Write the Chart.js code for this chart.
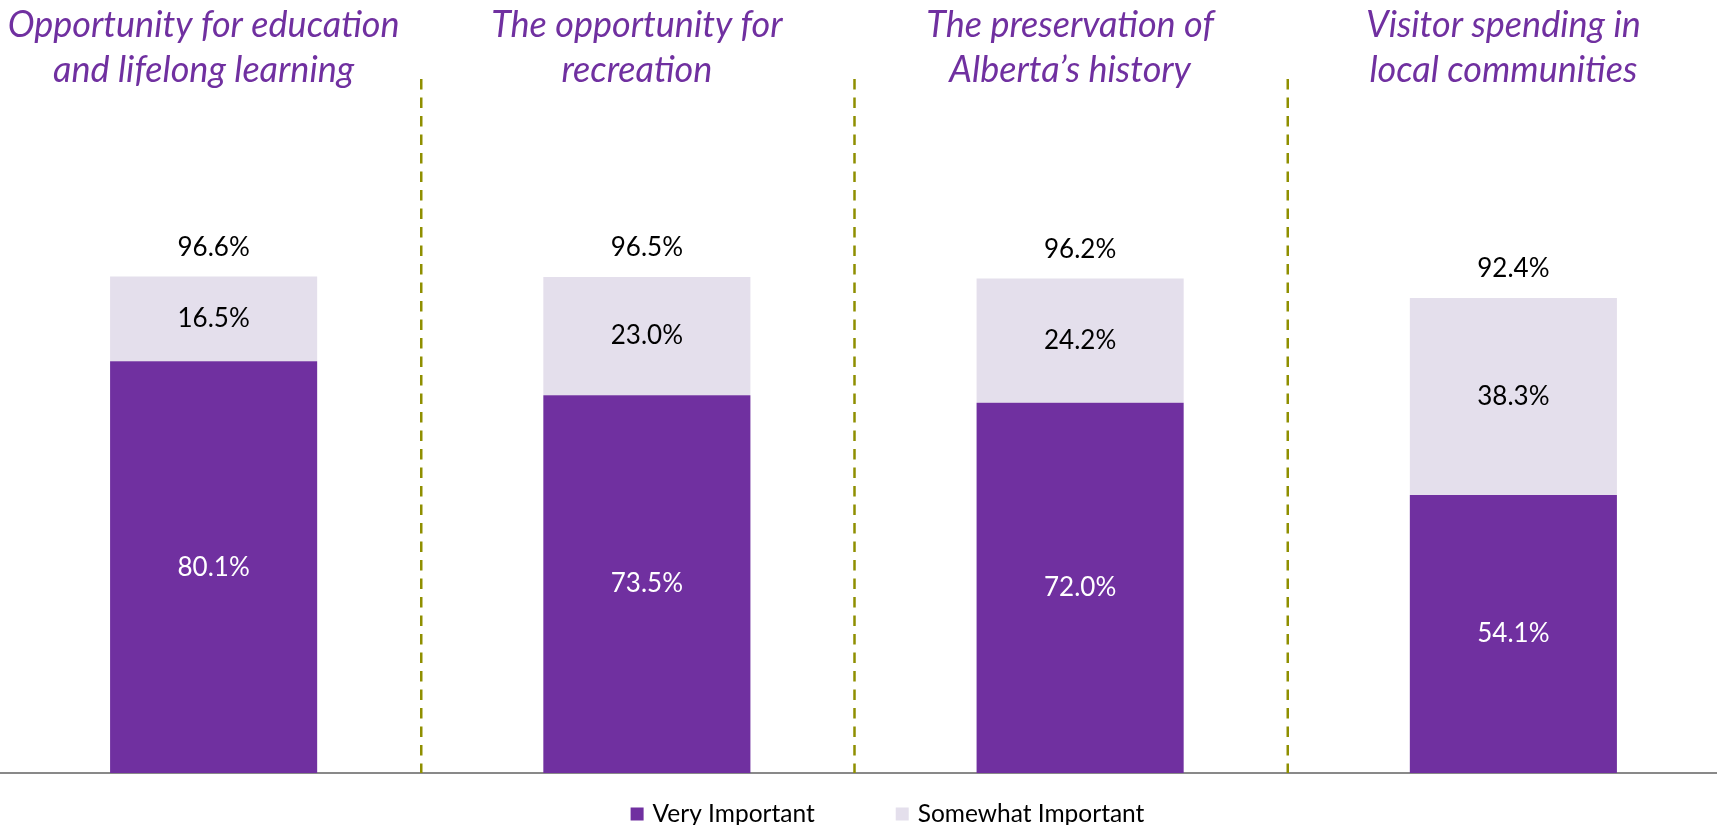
<!DOCTYPE html>
<html>
<head>
<meta charset="utf-8">
<script src="https://cdn.jsdelivr.net/npm/chart.js@4"></script>
<style>
  html, body { margin: 0; padding: 0; background: #ffffff; overflow: hidden; }
  #wrap { position: relative; left: -3px; width: 1733px; height: 825px; }
</style>
</head>
<body>
<div id="wrap"><canvas id="importance-chart"></canvas></div>
<script>
const categories = [
  ['Opportunity for education', 'and lifelong learning'],
  ['The opportunity for', 'recreation'],
  ['The preservation of', 'Alberta\u2019s history'],
  ['Visitor spending in', 'local communities']
];
const seriesNames = ['Very Important', 'Somewhat Important'];
const veryImportant = [80.1, 73.5, 72.0, 54.1];
const somewhatImportant = [16.5, 23.0, 24.2, 38.3];

const PURPLE = '#7030A0';
const LILAC = '#E4DFEC';

// dashed olive separators between the category columns
const separators = {
  id: 'separators',
  beforeDatasetsDraw(chart) {
    const ctx = chart.ctx;
    const xScale = chart.scales.x;
    const area = chart.chartArea;
    ctx.save();
    ctx.strokeStyle = '#8F8F00';
    ctx.lineWidth = 2.5;
    ctx.setLineDash([10.5, 8]);
    for (let i = 0; i < chart.data.labels.length - 1; i++) {
      const x = (xScale.getPixelForValue(i) + xScale.getPixelForValue(i + 1)) / 2 - 9;
      ctx.beginPath();
      ctx.moveTo(x, area.top);
      ctx.lineTo(x, area.bottom);
      ctx.stroke();
    }
    ctx.restore();
  }
};

// category headings across the top, two lines each
const categoryTitles = {
  id: 'categoryTitles',
  afterDraw(chart) {
    const ctx = chart.ctx;
    const xScale = chart.scales.x;
    ctx.save();
    ctx.font = 'italic 36px Lato';
    ctx.fillStyle = PURPLE;
    ctx.textAlign = 'center';
    ctx.textBaseline = 'alphabetic';
    chart.data.labels.forEach((lines, i) => {
      const x = xScale.getPixelForValue(i) - 10;
      lines.forEach((line, k) => ctx.fillText(line, x, 37 + k * 45));
    });
    ctx.restore();
  }
};

// value labels inside each segment plus the stack total above it
const barLabels = {
  id: 'barLabels',
  afterDatasetsDraw(chart) {
    const ctx = chart.ctx;
    ctx.save();
    ctx.font = '26px Lato';
    ctx.textAlign = 'center';
    ctx.textBaseline = 'middle';
    chart.data.datasets.forEach((ds, i) => {
      chart.getDatasetMeta(i).data.forEach((bar, j) => {
        ctx.fillStyle = i === 0 ? '#ffffff' : '#000000';
        ctx.fillText(ds.data[j].toFixed(1) + '%', bar.x, (bar.y + bar.base) / 2);
      });
    });
    ctx.fillStyle = '#000000';
    chart.getDatasetMeta(1).data.forEach((bar, j) => {
      const total = veryImportant[j] + somewhatImportant[j];
      ctx.fillText(total.toFixed(1) + '%', bar.x, bar.y - 29);
    });
    ctx.restore();
  }
};

// legend row under the axis, with wide spacing between the two entries
const bottomLegend = {
  id: 'bottomLegend',
  afterDraw(chart) {
    const ctx = chart.ctx;
    const box = 13, textGap = 9, itemGap = 81;
    const y = 814;
    ctx.save();
    ctx.font = '24.5px Lato';
    ctx.textBaseline = 'middle';
    const items = chart.data.datasets.map(ds => ({
      text: ds.label, color: ds.backgroundColor, w: box + textGap + ctx.measureText(ds.label).width
    }));
    const total = items.reduce((s, it) => s + it.w, 0) + itemGap * (items.length - 1);
    let x = chart.width / 2 + 24 - total / 2;
    items.forEach(it => {
      ctx.fillStyle = it.color;
      ctx.fillRect(x, y - box / 2, box, box);
      ctx.fillStyle = '#000000';
      ctx.fillText(it.text, x + box + textGap, y);
      x += it.w + itemGap;
    });
    ctx.restore();
  }
};

function createImportanceChart() {
  const ctx = document.getElementById('importance-chart').getContext('2d');
  new Chart(ctx, {
    type: 'bar',
    data: {
      labels: categories,
      datasets: [
        { label: seriesNames[0], data: veryImportant, backgroundColor: PURPLE, borderWidth: 0 },
        { label: seriesNames[1], data: somewhatImportant, backgroundColor: LILAC, borderWidth: 0 }
      ]
    },
    options: {
      responsive: true,
      maintainAspectRatio: false,
      animation: false,
      layout: { padding: { top: 79, bottom: 52, left: 0, right: 0 } },
      datasets: { bar: { categoryPercentage: 1, barPercentage: 0.478 } },
      plugins: {
        legend: { display: false },
        tooltip: { enabled: false }
      },
      scales: {
        x: {
          stacked: true,
          offset: true,
          grid: { display: false, drawTicks: false },
          border: { display: true, color: '#898989', width: 2 },
          ticks: { display: false }
        },
        y: {
          stacked: true,
          display: false,
          min: 0,
          max: 135
        }
      }
    },
    plugins: [separators, barLabels, categoryTitles, bottomLegend]
  });
}

createImportanceChart();
</script>
</body>
</html>
